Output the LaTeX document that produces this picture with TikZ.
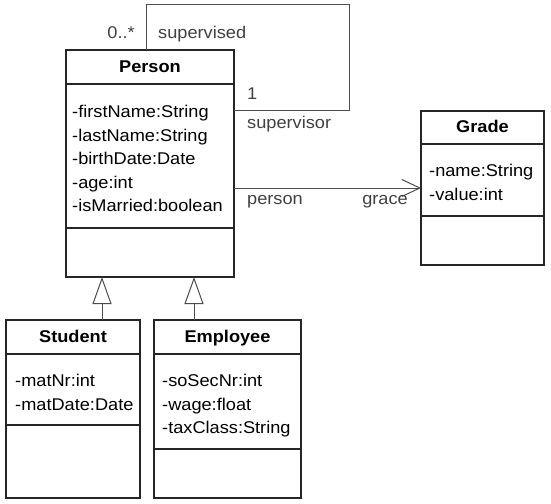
\documentclass[tikz,border=0pt]{standalone}
\usepackage{fontspec}
\setmainfont{Liberation Sans}[FakeStretch=1.07]
\usetikzlibrary{arrows.meta}
\usetikzlibrary{positioning, calc}

\begin{document}
\begin{tikzpicture}[x=1pt,y=-1pt]
  \tikzstyle{compart}=[draw=black!85, line width=1.2pt, outer sep=0pt, inner sep=0pt]
  \tikzstyle{classname}=[compart, text height=12.5pt, text depth=2pt, font=\fontsize{17}{20}\selectfont\bfseries]
  \tikzstyle{members}=[inner sep=0pt, align=left, font=\fontsize{17}{23.5}\selectfont]
  \tikzstyle{role}=[inner sep=0pt, text=black!75, font=\fontsize{17}{20}\selectfont]
  \tikzstyle{assoc}=[draw=black!70, line width=1pt]
  \tikzstyle{inherit}=[assoc, -{Triangle[open, length=27pt, width=19pt]}]

  \useasboundingbox (0,0) rectangle (551,503);

  % PERSON
  \node[classname, minimum width=168pt, minimum height=34pt, anchor=north west]
  (personhead) at (66,50) {Person};
  \node[compart, minimum width=168pt, minimum height=144pt, below=0pt of personhead] (personattr) {};
  \node[compart, minimum width=168pt, minimum height=49pt, below=0pt of personattr] (personops) {};
  \node[members, below right=21pt and 6pt of personattr.north west] (personlist)
  {-firstName:String\\-lastName:String\\-birthDate:Date\\-age:int\\-isMarried:boolean};

  % GRADE
  \node[classname, minimum width=123pt, minimum height=33pt, anchor=north west]
  (gradehead) at (421,111) {Grade};
  \node[compart, minimum width=123pt, minimum height=72pt, below=0pt of gradehead] (gradeattr) {};
  \node[compart, minimum width=123pt, minimum height=49pt, below=0pt of gradeattr] (gradeops) {};
  \node[members, below right=20pt and 8pt of gradeattr.north west] (gradelist)
  {-name:String\\-value:int};

  % STUDENT
  \node[classname, minimum width=134pt, minimum height=34pt, anchor=north west]
  (studenthead) at (6,320) {Student};
  \node[compart, minimum width=134pt, minimum height=71pt, below=0pt of studenthead] (studentattr) {};
  \node[compart, minimum width=134pt, minimum height=73pt, below=0pt of studentattr] (studentops) {};
  \node[members, below right=20pt and 9pt of studentattr.north west] (studentlist)
  {-matNr:int\\-matDate:Date};

  % EMPLOYEE
  \node[classname, minimum width=147pt, minimum height=34pt, anchor=north west]
  (employeehead) at (154,320) {Employee};
  \node[compart, minimum width=147pt, minimum height=95pt, below=0pt of employeehead] (employeeattr) {};
  \node[compart, minimum width=147pt, minimum height=49pt, below=0pt of employeeattr] (employeeops) {};
  \node[members, below right=20pt and 8pt of employeeattr.north west] (employeelist)
  {-soSecNr:int\\-wage:float\\-taxClass:String};

  % SUPERVISION LOOP
  \coordinate (loopcorner) at (349,5);
  \draw[assoc] ([xshift=80pt]personhead.north west) |- (loopcorner)
  |- ([yshift=-26pt]personattr.north east);
  \node[role, anchor=base east] (multmany) at (135,39) {0..*};
  \node[role, anchor=base west] (rolesupervised) at (158,39) {supervised};
  \node[role, anchor=base west] (multone) at (247,99) {1};
  \node[role, anchor=base west] (rolesupervisor) at (247,128) {supervisor};

  % ASSOCIATION TO GRADE
  \coordinate (gradelink) at (421,188);
  \draw[assoc, -{Straight Barb[length=18pt, width=17pt]}]
  (personattr.east |- gradelink) -- (gradeattr.west |- gradelink);
  \node[role, anchor=base west] (roleperson) at (247,204) {person};
  \node[role, anchor=base east] (rolegrace) at (408,204) {grace};

  % GENERALIZATION
  \draw[inherit] ([xshift=96pt]studenthead.north west) -- ([xshift=36pt]personops.south west);
  \draw[inherit] ([xshift=40pt]employeehead.north west) -- ([xshift=128pt]personops.south west);
\end{tikzpicture}
\end{document}
